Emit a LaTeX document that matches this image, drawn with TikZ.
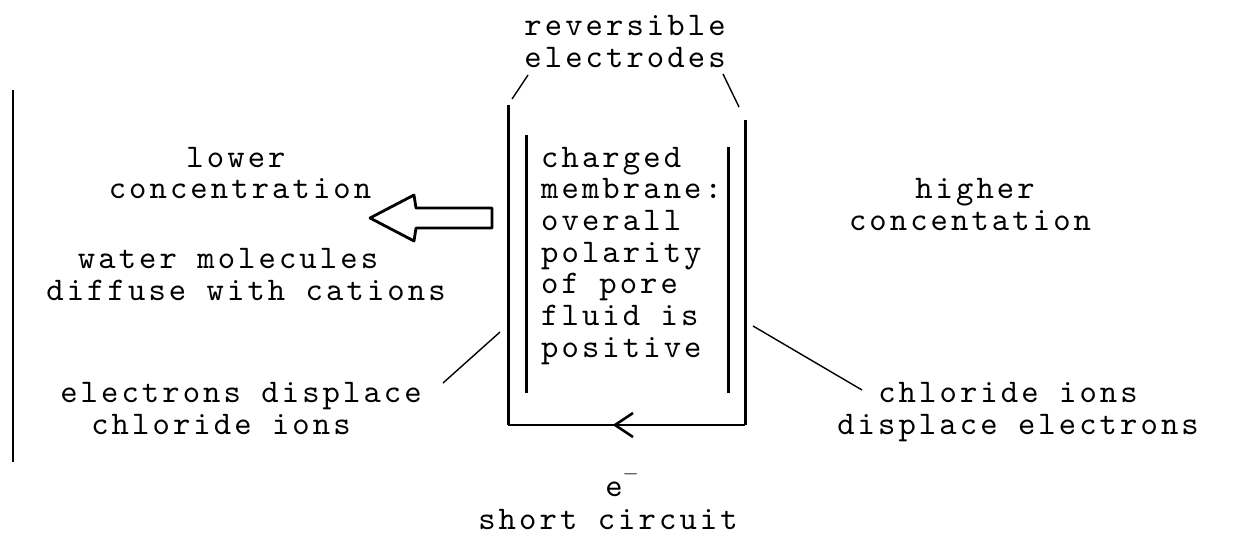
\documentclass[tikz,border=0pt]{standalone}
\usepackage{fontspec}
\newfontfamily\typew{lmmono10-regular.otf}[LetterSpace=9.4]
\begin{document}
\begin{tikzpicture}[x=1pt,y=-1pt,
  txt/.style={inner sep=0pt,font=\typew\fontsize{33}{31.7}\selectfont,anchor=base},
  electrode/.style={line width=3pt},
  wire/.style={line width=2.6pt},
  pointer/.style={line width=1.4pt},
  border/.style={line width=2pt},
  hollow/.style={line width=2.8pt,line join=round}]
\useasboundingbox (0,0) rectangle (1238,538);
% left boundary
\draw[border] (13,90) -- (13,462);
% electrodes and short circuit wire
\coordinate (oltop) at (508,105);
\coordinate (olbot) at (508,425);
\coordinate (ortop) at (745,120);
\coordinate (orbot) at (745,425);
\draw[electrode] (oltop) -- (olbot);
\draw[electrode] (ortop) -- (orbot);
\draw[wire] (orbot) -- (olbot);
\coordinate (tip) at (615,425);
\draw[wire,line join=miter] (633,413) -- (tip) -- (633,437);
% membrane
\draw[electrode] (526,135) coordinate (iltop) -- (526,393) coordinate (ilbot);
\draw[electrode] (728,147) coordinate (irtop) -- (728,393) coordinate (irbot);
% texts
\node[txt] (rev1) at (625,35) {reversible};
\node[txt] (rev2) at (625,67) {electrodes};
\node[txt,anchor=base west] (m1) at (541,167) {charged};
\node[txt,anchor=base west] (m2) at (541,198.7) {membrane:};
\node[txt,anchor=base west] (m3) at (541,230.4) {overall};
\node[txt,anchor=base west] (m4) at (541,262.1) {polarity};
\node[txt,anchor=base west] (m5) at (541,293.8) {of pore};
\node[txt,anchor=base west] (m6) at (541,325.5) {fluid is};
\node[txt,anchor=base west] (m7) at (541,357.2) {positive};
\node[txt] (low1) at (236,167) {lower};
\node[txt] (low2) at (240,198) {concentration};
\node[txt] (wat1) at (228,268) {water molecules};
\node[txt] (wat2) at (246,300) {diffuse with cations};
\node[txt] (hi1) at (975,198) {higher};
\node[txt] (hi2) at (970,230) {concentation};
\node[txt] (el1) at (241,402) {electrons displace};
\node[txt] (el2) at (221,434) {chloride ions};
\node[txt] (cl1) at (1008,402) {chloride ions};
\node[txt] (cl2) at (1018,434) {displace electrons};
\node[txt] (em) at (622,496) {e\raisebox{0.5em}{\fontsize{20}{20}\selectfont$-$}};
\node[txt] (sc) at (608,529) {short circuit};
% pointers
\draw[pointer] (528,75) -- (512,99);
\draw[pointer] (723,74) -- (739,107);
\draw[pointer] (500,332) -- (443,383);
\draw[pointer] (753,326) -- (862,390);
% hollow arrow
\draw[hollow] (370,218) -- (414,195) -- (416,208) -- (492,208) -- (492,228) -- (416,228) -- (414,241) -- cycle;
\end{tikzpicture}
\end{document}
